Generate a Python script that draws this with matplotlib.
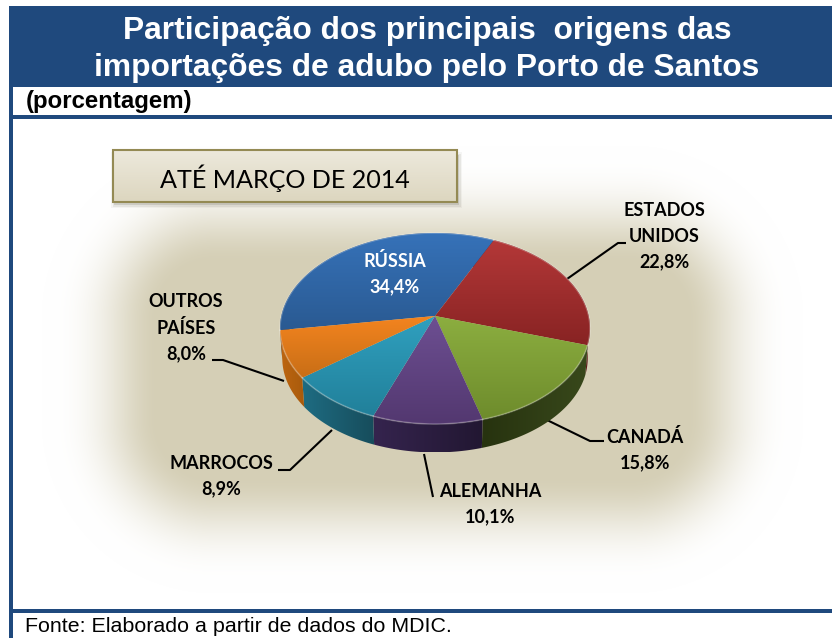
import numpy as np
import matplotlib
matplotlib.use('Agg')
import matplotlib.pyplot as plt
from matplotlib.patches import Rectangle, Polygon
from matplotlib.colors import to_rgb

# Data
categories = ['RÚSSIA', 'ESTADOS\nUNIDOS', 'CANADÁ', 'ALEMANHA', 'MARROCOS', 'OUTROS\nPAÍSES']
shares = [34.4, 22.8, 15.8, 10.1, 8.9, 8.0]
value_labels = ['34,4%', '22,8%', '15,8%', '10,1%', '8,9%', '8,0%']

title_lines = ['Participação dos principais  origens das', 'importações de adubo pelo Porto de Santos']
unit_label = '(porcentagem)'
period_label = 'ATÉ MARÇO DE 2014'
source_label = 'Fonte: Elaborado a partir de dados do MDIC.'

# Styles: top colour, bottom colour of each slice
top_hi = ['#3672b9', '#b43838', '#8cae40', '#6d4f92', '#30a0bf', '#f3841f']
top_lo = ['#2a5a92', '#882323', '#6e8c2c', '#533870', '#21809a', '#c86e16']
side_hi = ['#1d3f68', '#5e1818', '#27330f', '#35244e', '#1e6c82', '#bd6610']
side_lo = ['#1d3f68', '#5e1818', '#38481b', '#221732', '#174d5c', '#a85a0c']

NAVY = '#1f497d'
FIG_W, FIG_H = 832, 638
CX, CY = 435, 316
A, B, K = 153.7, 93.9, 0.131
DEPTH = 30
START = -98.5   # clockwise degrees from the top of the pie


def rim(deg, scale=1.0, drop=0.0):
    t = np.radians(deg)
    x, y = np.sin(t), np.cos(t)
    d = 1 + K * y
    return CX + scale * A * x / d, CY + drop - scale * B * y / d


def vgrad(ax, patch, c0, c1, horizontal=False, zorder=3):
    ax.add_patch(patch)
    patch.set_facecolor('none')
    patch.set_edgecolor('none')
    patch.set_zorder(zorder)
    xy = patch.get_xy()
    x0, x1, y0, y1 = xy[:, 0].min(), xy[:, 0].max(), xy[:, 1].min(), xy[:, 1].max()
    c0, c1 = np.array(to_rgb(c0)), np.array(to_rgb(c1))
    f = np.linspace(0, 1, 64)[:, None]
    g = (c0 * (1 - f) + c1 * f)[:, None, :]
    if horizontal:
        g = g.transpose(1, 0, 2)
    im = ax.imshow(g, extent=(x0, x1, y1, y0), aspect='auto', zorder=zorder, interpolation='bilinear')
    im.set_clip_path(patch)


fig = plt.figure(figsize=(FIG_W / 100, FIG_H / 100), dpi=100)
ax = fig.add_axes([0, 0, 1, 1])
ax.axis('off')

# soft beige glow behind the pie: rounded box with a falloff
xx, yy = np.meshgrid(np.arange(FIG_W), np.arange(FIG_H))
dx = np.maximum(np.maximum(214 - xx, xx - 630), 0)
dy = np.maximum(np.maximum(318 - yy, yy - 420), 0)
dist = np.hypot(dx, dy)
t = np.clip((dist - 55) / 118, 0, 1)
mask = (1 - t) ** 3 * (1 + 3 * t)
glow = np.ones((FIG_H, FIG_W, 3))
beige = np.array(to_rgb('#d5cfb6'))
for i in range(3):
    glow[:, :, i] = 1 - (1 - beige[i]) * mask
ax.imshow(glow, extent=(0, FIG_W, FIG_H, 0), aspect='auto', zorder=0)

# frame
ax.add_patch(Rectangle((9, 6), FIG_W - 9, 81, color=NAVY, lw=0, zorder=1))
ax.add_patch(Rectangle((9, 87), FIG_W - 9, 28, color='white', lw=0, zorder=1))
ax.add_patch(Rectangle((9, 6), 4, FIG_H - 6, color=NAVY, lw=0, zorder=2))
ax.add_patch(Rectangle((9, 115), FIG_W - 9, 4, color=NAVY, lw=0, zorder=2))
ax.add_patch(Rectangle((9, 609), FIG_W - 9, 4, color=NAVY, lw=0, zorder=2))
ax.add_patch(Rectangle((13, 613), FIG_W - 13, 25, color='white', lw=0, zorder=1))

ax.text(427, 39, title_lines[0], color='white', fontsize=22.9, fontweight='bold',
        family='Liberation Sans', ha='center', va='baseline', zorder=5)
ax.text(427, 76, title_lines[1], color='white', fontsize=22.9, fontweight='bold',
        family='Liberation Sans', ha='center', va='baseline', zorder=5)
ax.text(26, 108, unit_label, color='black', fontsize=17.3, fontweight='bold',
        family='Liberation Sans', ha='left', va='baseline', zorder=5)
ax.text(25, 632, source_label, color='black', fontsize=15.4, family='Liberation Sans',
        ha='left', va='baseline', zorder=5)

# period box
for grow, alpha in [(4, 0.05), (2.5, 0.09), (1, 0.16)]:
    ax.add_patch(Rectangle((115 - grow, 156 - grow), 343 + 2 * grow, 48 + 2 * grow,
                           color='#55503c', alpha=alpha, lw=0, zorder=2))
box = Polygon([(113, 150), (457, 150), (457, 202), (113, 202)], closed=True)
vgrad(ax, box, '#ede9dc', '#dcd6bf', zorder=3)
ax.add_patch(Rectangle((113, 150), 344, 52, fill=False, edgecolor='#948a54', lw=1.5, zorder=4))
ax.text(285, 178, period_label, color='black', fontsize=18.1, family='Lato',
        ha='center', va='center', zorder=5)

# pie
edges = START + np.concatenate([[0], np.cumsum(shares)]) * 3.6
for i in range(len(shares)):
    a = np.linspace(edges[i], edges[i + 1], 80)
    # the side wall only shows on the front half of the rim
    x0, y0 = rim(a)
    x1, y1 = rim(a, 0.985, DEPTH)
    pts = np.column_stack([np.r_[x0, x1[::-1]], np.r_[y0, y1[::-1]]])
    vgrad(ax, Polygon(pts, closed=True), side_hi[i], side_lo[i], horizontal=True, zorder=3)
for i in range(len(shares)):
    a = np.linspace(edges[i], edges[i + 1], 80)
    x0, y0 = rim(a)
    pts = np.column_stack([np.r_[CX, x0], np.r_[CY, y0]])
    vgrad(ax, Polygon(pts, closed=True), top_hi[i], top_lo[i], zorder=4)
    ax.plot(x0, y0, color='white', alpha=0.25, lw=1.2, zorder=4.5)

# leader lines
leaders = [[(567, 279), (618, 243), (626, 243)],
           [(547, 420), (590, 441), (604, 441)],
           [(424, 454), (433, 497)],
           [(332, 430), (290, 470), (278, 470)],
           [(284, 381), (223, 360), (212, 360)]]
for pts in leaders:
    xs, ys = zip(*pts)
    ax.plot(xs, ys, color='black', lw=1.5, zorder=2.5, solid_capstyle='butt')

# labels
label_pos = [(395, 274), (664, 236), (645, 450), (490, 504), (221, 476), (186, 328)]
for i, (px, py) in enumerate(label_pos):
    col = 'white' if i == 0 else 'black'
    ax.text(px, py, categories[i] + '\n' + value_labels[i], color=col, fontsize=13,
            fontweight='bold', family='Lato', ha='center', va='center',
            linespacing=1.6, zorder=6)

ax.set_xlim(0, FIG_W)
ax.set_ylim(FIG_H, 0)
fig.savefig('out.png', dpi=100)
